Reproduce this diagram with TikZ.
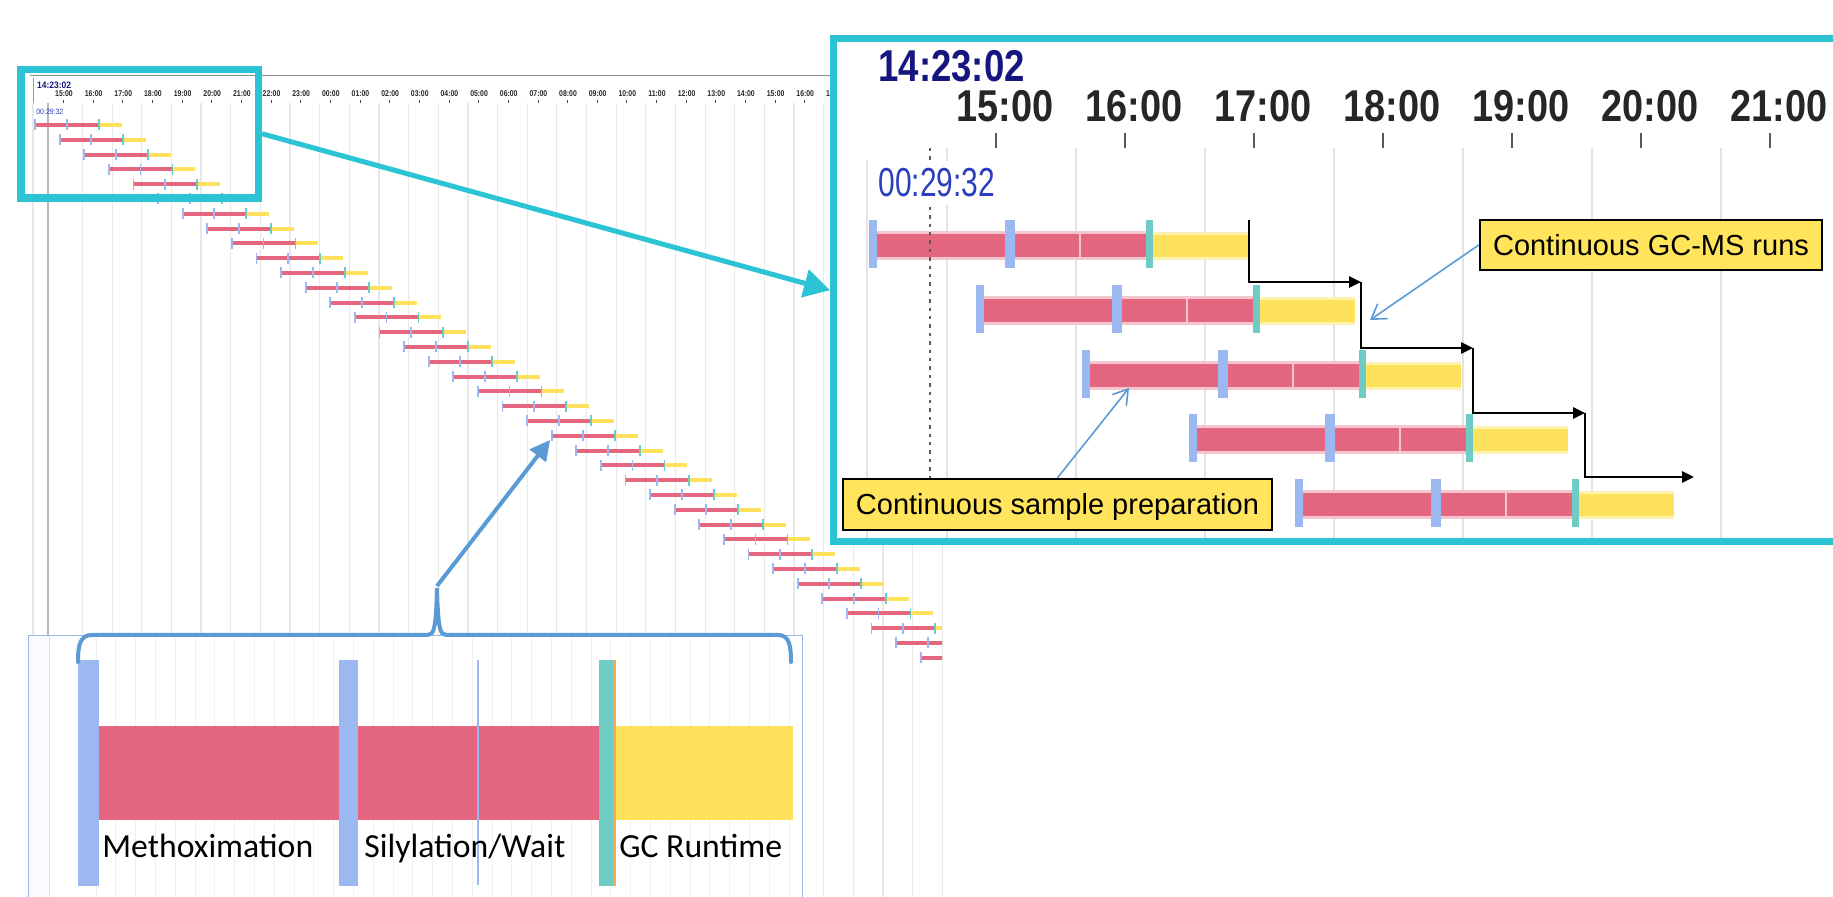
\documentclass[tikz,border=0pt]{standalone}
\usepackage{fontspec}
\setmainfont{Liberation Sans}
\newfontfamily\cali{Carlito}
\usepackage{graphicx}
\usepackage{tikz}
\usetikzlibrary{arrows.meta,positioning}
\definecolor{prepred}{RGB}{229,102,127}
\definecolor{prephalo}{RGB}{245,198,208}
\definecolor{gcyel}{RGB}{255,226,92}
\definecolor{gchalo}{RGB}{255,241,175}
\definecolor{mkblue}{RGB}{155,184,240}
\definecolor{mkteal}{RGB}{110,204,196}
\definecolor{mkorange}{RGB}{245,170,80}
\definecolor{zoomcyan}{RGB}{44,196,212}
\definecolor{ptrblue}{RGB}{91,155,213}
\definecolor{boxyel}{RGB}{255,228,92}
\definecolor{tnavy}{RGB}{22,22,128}
\definecolor{tblue}{RGB}{42,62,190}
\definecolor{lowframe}{RGB}{150,186,235}
\newcommand{\narrowtxt}[2]{\scalebox{#1}[1]{#2}}
\tikzset{
  gridln/.style={black!9,line width=0.6pt},
  gridz/.style={black!11,line width=1.2pt},
  tickln/.style={black!70,line width=0.4pt},
  tickz/.style={black!65,line width=1pt},
  txt/.style={inner sep=0pt,anchor=base},
  zoombox/.style={draw=zoomcyan,line width=3.75pt,inner sep=0pt},
  zoomarr/.style={zoomcyan,line width=2.5pt,-{Triangle[length=13pt,width=14pt]}},
  ptr/.style={ptrblue,line width=0.8pt,-{Straight Barb[length=7pt,width=9pt]}},
  ptrbig/.style={ptrblue,line width=2pt,-{Triangle[length=10pt,width=10pt]}},
  stepln/.style={black,line width=1.4pt,-{Triangle[length=6pt,width=5.5pt]}},
  callout/.style={draw=black,line width=1.25pt,fill=boxyel,inner sep=0pt,
    font=\fontsize{14.5}{16}\selectfont,text height=10.4pt,text depth=0pt},
  lowlbl/.style={inner sep=0pt,anchor=base west,font=\cali\fontsize{16.85}{20}\selectfont}
}
\begin{document}
\begin{tikzpicture}[x=0.5pt,y=-0.5pt]
\useasboundingbox (0,0) rectangle (1833,897);
\fill[white] (0,0) rectangle (1833,897);
\clip (0,0) rectangle (1833,897);

\draw[black!45,line width=0.5pt] (30,76) -- (942,76);
\draw[black!40,line width=0.5pt] (33,78) -- (33,103);
\draw[gridln] (33,103) -- (33,897);
\draw[black!28,line width=0.6pt] (48,103) -- (48,897);
\foreach \g in {1,...,30}
  \draw[gridln] (52.8+29.65*\g,103) -- (52.8+29.65*\g,897);
\node[txt,anchor=base west,text=tnavy,font=\bfseries\fontsize{4.68}{5}\selectfont] (ts0) at (36.7,88.3) {\narrowtxt{0.91}{14:23:02}};
\node[txt,anchor=base west,text=tblue,font=\fontsize{3.84}{4.5}\selectfont] (rs0) at (36,115) {\narrowtxt{0.9}{00:29:32}};
\foreach \h in {0,...,26}{
  \pgfmathtruncatemacro\hh{mod(15+\h,24)}
  \draw[tickln] (63.5+29.65*\h,100.5) -- (63.5+29.65*\h,103.5);
  \node[txt,text=black!85,font=\bfseries\fontsize{4.2}{5}\selectfont] (hs\h) at (64+29.65*\h,96.7) {\narrowtxt{0.82}{\ifnum\hh<10 0\fi\hh:00}};
}
\begin{scope}
\clip (0,0) rectangle (942,897);
\foreach \k in {0,...,36}{
  \pgfmathsetmacro\xs{35+24.6*\k}
  \pgfmathsetmacro\ya{125+14.8*\k}
  \fill[prepred] (\xs,\ya-2) rectangle (\xs+63.6,\ya+2);
  \fill[gcyel] (\xs+63.6,\ya-2) rectangle (\xs+86.6,\ya+2);
  \fill[mkblue] (\xs-0.9,\ya-5.5) rectangle (\xs+0.9,\ya+5.5);
  \fill[mkblue] (\xs+30.8,\ya-5.5) rectangle (\xs+32.6,\ya+5.5);
  \fill[mkteal] (\xs+62.7,\ya-5.5) rectangle (\xs+64.5,\ya+5.5);
}
\end{scope}

\filldraw[fill=white,draw=lowframe,line width=0.5pt] (28,636) rectangle (802,905);
\fill[blue!2] (28.5,636.5) rectangle (48.5,897);
\draw[black!12,line width=0.8pt] (49.5,636.5) -- (49.5,897);
\foreach \g in {0,...,35}
  \draw[black!6,line width=0.5pt] (96+19.8*\g,637) -- (96+19.8*\g,897);
\fill[prepred] (99,726) rectangle (599,820);
\fill[gcyel] (616,726) rectangle (793,820);
\fill[mkblue] (78,660) rectangle (99,886);
\fill[mkblue] (339,660) rectangle (358,886);
\draw[mkblue,line width=0.6pt] (478,660) -- (478,885);
\fill[mkteal] (599,660) rectangle (613,886);
\fill[mkorange] (613,660) rectangle (616,886);
\node[lowlbl] (lm) at (102,858) {Methoximation};
\node[lowlbl] (ls) at (364,858) {Silylation/Wait};
\node[lowlbl] (lg) at (619,858) {GC Runtime};
\draw[ptrblue,line width=2pt,line cap=round] (78,662) .. controls (78,645) and (80,635) .. (92,635) -- (428,635) .. controls (434,635) and (436,628) .. (437,588) .. controls (438,628) and (440,635) .. (446,635) -- (778,635) .. controls (789,635) and (791,645) .. (791,662);
\coordinate (bracetip) at (437,586);
\coordinate (selrow) at (550,440);
\draw[ptrbig] (bracetip) -- (selrow);

\node[zoombox,minimum width=118.55pt,minimum height=64.25pt] (selbox) at (139.75,133.75) {};
\node[zoombox,fill=white,line width=3.5pt,minimum width=513.25pt,minimum height=251.75pt] (zoomin) at (1346.75,290.25) {};
\draw[zoomarr] (selbox.east) -- (zoomin.west);

\draw[gridz] (867,160) -- (867,538.5);
\foreach \g in {0,...,6}
  \draw[gridz] (947+129*\g,148) -- (947+129*\g,538.5);
\node[txt,anchor=base west,text=tnavy,font=\bfseries\fontsize{22.3}{24}\selectfont] (tz0) at (878,82) {\narrowtxt{0.82}{14:23:02}};
\foreach \h in {0,...,6}{
  \draw[tickz] (996+129*\h,133) -- (996+129*\h,148);
  \node[txt,text=black!85,font=\bfseries\fontsize{22.3}{24}\selectfont] (hz\h) at (1005+129*\h,122) {\narrowtxt{0.85}{\the\numexpr15+\h\relax:00}};
}
\foreach \k in {0,...,4}{
  \pgfmathsetmacro\xs{873+106.6*\k}
  \pgfmathsetmacro\ya{245+64.8*\k}
  \fill[prephalo] (\xs+4,\ya-14) rectangle (\xs+273,\ya+15);
  \fill[gchalo] (\xs+280,\ya-13) rectangle (\xs+375,\ya+15);
  \fill[prepred] (\xs+4,\ya-11) rectangle (\xs+273,\ya+12);
  \fill[gcyel] (\xs+280,\ya-10) rectangle (\xs+375,\ya+12);
  \draw[prephalo,line width=1pt] (\xs+207,\ya-11) -- (\xs+207,\ya+12);
  \fill[mkblue] (\xs-4,\ya-25) rectangle (\xs+4,\ya+23);
  \fill[mkblue] (\xs+132,\ya-25) rectangle (\xs+142,\ya+23);
  \fill[mkteal] (\xs+273,\ya-25) rectangle (\xs+280,\ya+23);
}
\draw[black!65,line width=1pt,dash pattern=on 1.7pt off 2.5pt] (930,148) -- (930,533);
\node[txt,anchor=base west,fill=white,inner ysep=4pt,text=tblue,font=\fontsize{20.25}{22}\selectfont] (rz0) at (878,197) {\narrowtxt{0.74}{00:29:32}};

\coordinate (sa0) at (1249,220);
\foreach \j/\x/\y in {1/1361/282,2/1473/348,3/1585/413,4/1694/477}
  \coordinate (sa\j) at (\x,\y);
\foreach \i/\j in {0/1,1/2,2/3,3/4}
  \draw[stepln] (sa\i) |- (sa\j);

\node[callout,minimum width=171pt,minimum height=25pt] (gcms) at (1651,245) {Continuous GC-MS runs};
\node[callout,minimum width=214.5pt,minimum height=25.5pt] (prep) at (1057.5,504.5) {Continuous sample preparation};
\coordinate (gctip) at (1370,320);
\coordinate (preptip) at (1129,388);
\draw[ptr] (gcms.west) -- (gctip);
\draw[ptr] (prep.north) -- (preptip);
\end{tikzpicture}
\end{document}
